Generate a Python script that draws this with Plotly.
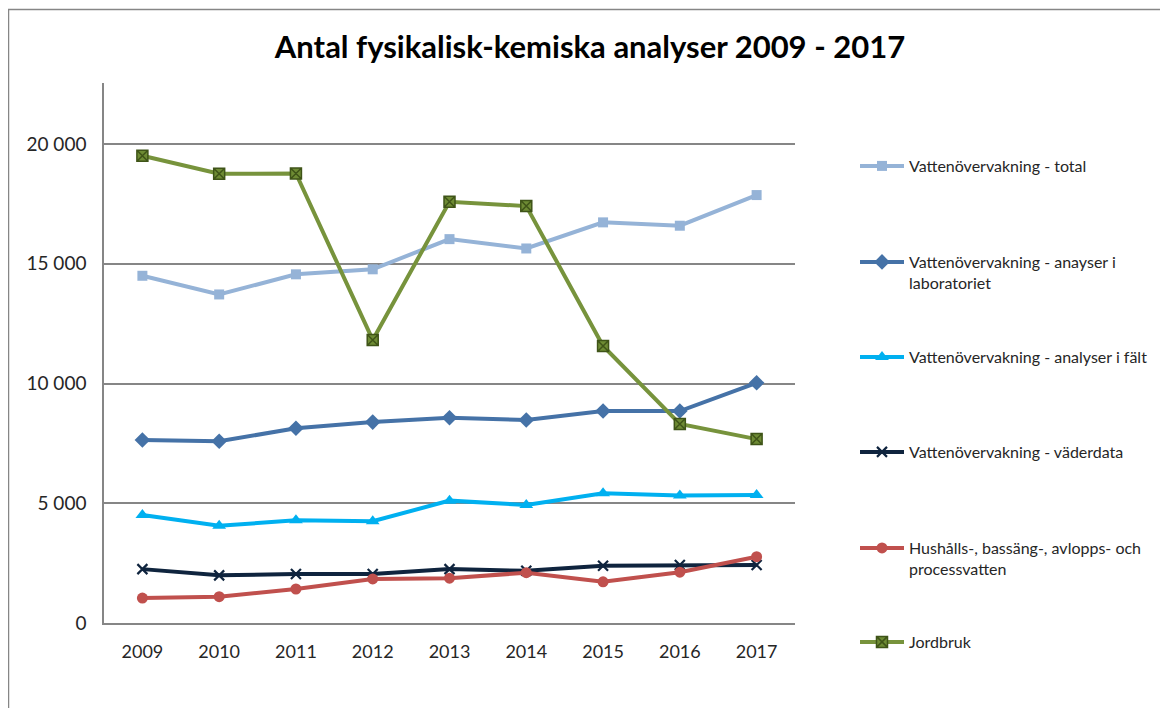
import plotly.graph_objects as go

years = ["2009", "2010", "2011", "2012", "2013", "2014", "2015", "2016", "2017"]

total = [14500, 13720, 14560, 14770, 16030, 15640, 16730, 16590, 17870]
lab = [7640, 7590, 8130, 8390, 8570, 8480, 8850, 8850, 10030]
falt = [4510, 4060, 4290, 4250, 5110, 4930, 5420, 5320, 5340]
vader = [2250, 1990, 2050, 2050, 2250, 2180, 2390, 2420, 2420]
hushall = [1040, 1100, 1420, 1840, 1870, 2100, 1720, 2120, 2770]
jordbruk = [19510, 18760, 18770, 11820, 17590, 17410, 11570, 8310, 7680]

ytick_vals = [0, 5000, 10000, 15000, 20000]
ytick_text = ["0", "5 000", "10 000", "15 000", "20 000"]

FONT = "Lato"
GRID = "#868686"
TXT = "#262626"

# page has an 8px body margin, so the figure is 1160x700 and screen px are shifted by 8
OFF = 8
W, H = 1168 - OFF, 708 - OFF
# plot area on screen: x 104..795, y 83..623
L, T = 104 - OFF, 83 - OFF
R, B = 1168 - 795, 708 - 623
PW, PH = W - L - R, H - T - B


def px_x(px):
    return (px - OFF - L) / PW


def px_y(py):
    return (H - B - (py - OFF)) / PH


series = [
    ("Vattenövervakning - total", total, "#95B3D7",
     dict(symbol="square", size=10), 166, "legend"),
    ("Vattenövervakning - anayser i<br>laboratoriet", lab, "#4572A7",
     dict(symbol="diamond", size=12), 272.5, "legend2"),
    ("Vattenövervakning - analyser i fält", falt, "#00B0F0",
     dict(symbol="triangle-up", size=12), 357, "legend3"),
    ("Vattenövervakning - väderdata", vader, "#0F243E",
     dict(symbol="x-thin", size=10, line=dict(width=2.2, color="#0F243E")), 452, "legend4"),
    ("Hushålls-, bassäng-, avlopps- och<br>processvatten", hushall, "#C0504D",
     dict(symbol="circle", size=11), 558.5, "legend5"),
    ("Jordbruk", jordbruk, "#77933C",
     dict(symbol="square-x", size=11, color="#6E8B34", line=dict(width=1.5, color="#3F5418")),
     642, "legend6"),
]

fig = go.Figure()
legends = {}
for name, vals, color, marker, ly, lg in series:
    m = dict(color=color)
    m.update(marker)
    fig.add_scatter(x=years, y=vals, name=name, mode="lines+markers",
                    line=dict(color=color, width=4), marker=m, legend=lg)
    legends[lg] = dict(x=px_x(855), xanchor="left", y=px_y(ly), yanchor="middle",
                       bgcolor="rgba(0,0,0,0)", itemwidth=44, valign="top",
                       font=dict(family=FONT, size=16, color=TXT))

fig.update_layout(
    width=W, height=H,
    showlegend=True,
    margin=dict(l=L, r=R, t=T, b=B),
    paper_bgcolor="white", plot_bgcolor="white",
    title=dict(text="<b>Antal fysikalisk-kemiska analyser 2009 - 2017</b>",
               x=(590 - OFF) / W, xanchor="center", y=1 - (47 - OFF) / H, yanchor="middle",
               xref="container", yref="container",
               font=dict(family=FONT, size=31, color="black")),
    font=dict(family=FONT, color=TXT),
    xaxis=dict(type="category", range=[-0.5, 8.5], showgrid=False, showline=True,
               linecolor=GRID, linewidth=1.5, ticks="", ticklabelstandoff=12,
               tickfont=dict(family=FONT, size=18, color=TXT)),
    yaxis=dict(range=[0, 22550], tickvals=ytick_vals, ticktext=ytick_text,
               showgrid=True, gridcolor=GRID, gridwidth=1.5, zeroline=False,
               showline=True, linecolor=GRID, linewidth=1.5, ticks="",
               ticklabelstandoff=12, tickfont=dict(family=FONT, size=19, color=TXT)),
    shapes=[dict(type="rect", xref="paper", yref="paper",
                 x0=px_x(8.5), x1=px_x(1190), y0=px_y(730), y1=px_y(9.5),
                 line=dict(color=GRID, width=1.5), fillcolor="rgba(0,0,0,0)", layer="below")],
    **legends,
)

fig.write_html("out.html")
